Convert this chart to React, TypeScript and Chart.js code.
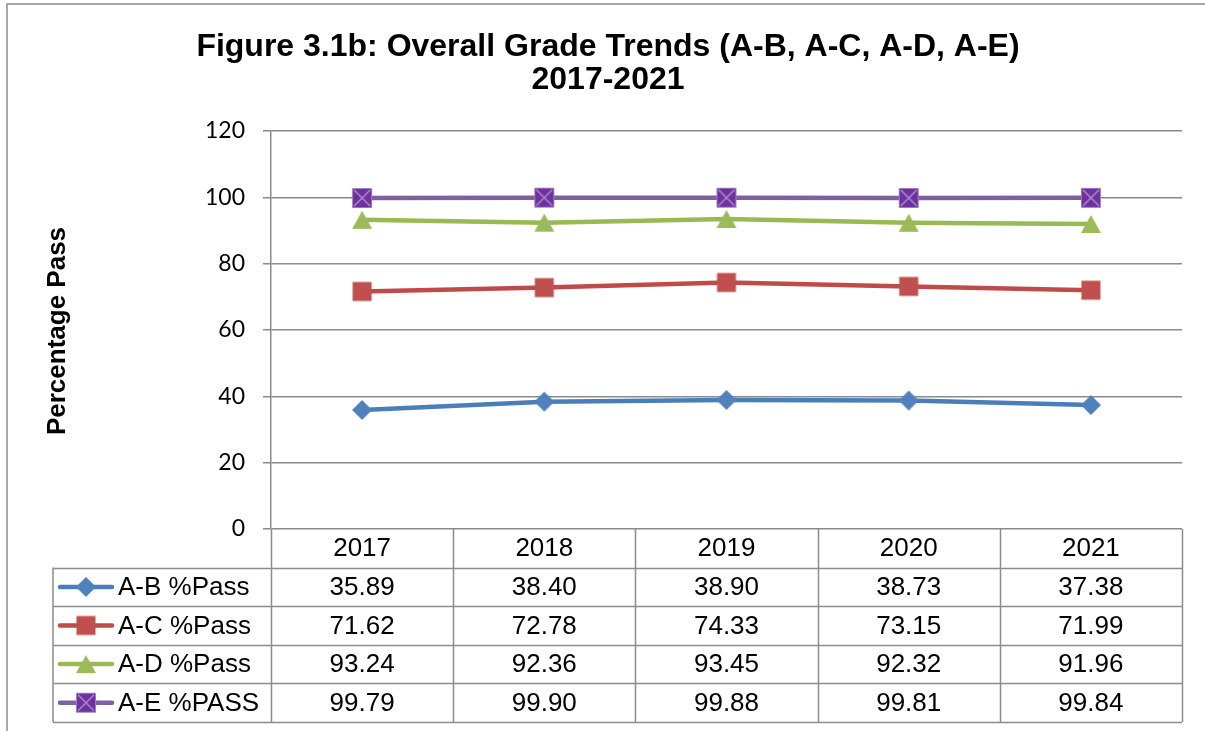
import React, { useEffect, useRef } from "react";
import { Chart, registerables } from "chart.js";

Chart.register(...registerables);

const years = ["2017", "2018", "2019", "2020", "2021"];
const seriesNames = ["A-B %Pass", "A-C %Pass", "A-D %Pass", "A-E %PASS"];
const abPass = [35.89, 38.4, 38.9, 38.73, 37.38];
const acPass = [71.62, 72.78, 74.33, 73.15, 71.99];
const adPass = [93.24, 92.36, 93.45, 92.32, 91.96];
const aePass = [99.79, 99.9, 99.88, 99.81, 99.84];
const yMin = 0;
const yMax = 120;
const yStep = 20;
const titleLines = ["Figure 3.1b: Overall Grade Trends (A-B, A-C, A-D, A-E)", "2017-2021"];
const yTitle = "Percentage Pass";

const lineColors = ["#4a7ebb", "#be4b48", "#98b954", "#7d60a0"];
const markerKinds = ["diamond", "square", "triangle", "xsquare"];

function makeMarker(kind: string): HTMLCanvasElement {
  const c = document.createElement("canvas");
  c.width = 22;
  c.height = 22;
  const g = c.getContext("2d")!;
  g.beginPath();
  if (kind === "diamond") {
    g.moveTo(11, 1);
    g.lineTo(21, 11);
    g.lineTo(11, 21);
    g.lineTo(1, 11);
    g.closePath();
    g.fillStyle = "#4f81bd";
    g.fill();
  } else if (kind === "square") {
    g.rect(1.5, 1.5, 19, 19);
    g.fillStyle = "#c0504d";
    g.fill();
  } else if (kind === "triangle") {
    g.moveTo(11, 2);
    g.lineTo(21, 20);
    g.lineTo(1, 20);
    g.closePath();
    g.fillStyle = "#9bbb59";
    g.fill();
  } else {
    g.rect(1.5, 1.5, 19, 19);
    g.fillStyle = "#7030a0";
    g.fill();
    g.strokeStyle = "#9a7cc0";
    g.lineWidth = 1;
    g.stroke();
    g.beginPath();
    g.moveTo(3, 3);
    g.lineTo(19, 19);
    g.moveTo(19, 3);
    g.lineTo(3, 19);
    g.strokeStyle = "#a88ccc";
    g.lineWidth = 1.5;
    g.stroke();
  }
  return c;
}

export default function App() {
  const ref = useRef<HTMLCanvasElement | null>(null);

  useEffect(() => {
    if (!ref.current) return;
    const markers = markerKinds.map(makeMarker);
    const seriesData = [abPass, acPass, adPass, aePass];

    const framePlugin = {
      id: "frame",
      afterDraw(chart: any) {
        const ctx = chart.ctx as CanvasRenderingContext2D;
        const area = chart.chartArea;
        const xs = chart.scales.x;
        ctx.save();
        // outer border
        ctx.strokeStyle = "#8a8a8a";
        ctx.lineWidth = 1.5;
        ctx.beginPath();
        ctx.moveTo(7, 731);
        ctx.lineTo(7, 4);
        ctx.lineTo(1205, 4);
        ctx.stroke();

        // title
        ctx.fillStyle = "#000";
        ctx.textAlign = "center";
        ctx.textBaseline = "middle";
        ctx.font = "bold 32px 'Liberation Sans', Arial, sans-serif";
        ctx.fillText(titleLines[0], 608, 47);
        ctx.fillText(titleLines[1], 608, 80);

        // y title
        ctx.save();
        ctx.translate(58, 331);
        ctx.rotate(-Math.PI / 2);
        ctx.font = "bold 26px 'Liberation Sans', Arial, sans-serif";
        ctx.fillText(yTitle, 0, 0);
        ctx.restore();

        // data table
        const rowH = 38.6;
        const top = area.bottom;
        const n = years.length;
        const colW = (area.right - area.left) / n;
        const tableBottom = top + rowH * (seriesNames.length + 1);
        const legendLeft = 53;
        ctx.strokeStyle = "#8c8c8c";
        ctx.lineWidth = 1.5;
        ctx.beginPath();
        for (let r = 1; r <= seriesNames.length + 1; r++) {
          const y = Math.round(top + rowH * r) + 0.5;
          ctx.moveTo(legendLeft, y);
          ctx.lineTo(area.right, y);
        }
        const r1 = top + rowH;
        ctx.moveTo(legendLeft, r1);
        ctx.lineTo(legendLeft, tableBottom);
        for (let i = 0; i <= n; i++) {
          const x = Math.round(xs.getPixelForValue(i) - colW / 2) + 0.5;
          ctx.moveTo(x, top);
          ctx.lineTo(x, tableBottom);
        }
        ctx.stroke();

        ctx.font = "26px 'Liberation Sans', Arial, sans-serif";
        ctx.fillStyle = "#000";
        ctx.textAlign = "center";
        ctx.textBaseline = "middle";
        for (let i = 0; i < n; i++) {
          const cx = xs.getPixelForValue(i);
          ctx.fillText(years[i], cx, top + rowH / 2 + 1);
          for (let s = 0; s < seriesData.length; s++) {
            ctx.fillText(seriesData[s][i].toFixed(2), cx, top + rowH * (s + 1.5) + 1);
          }
        }
        for (let s = 0; s < seriesNames.length; s++) {
          const cy = top + rowH * (s + 1.5);
          ctx.strokeStyle = lineColors[s];
          ctx.lineWidth = 4.5;
          ctx.lineCap = "round";
          ctx.beginPath();
          ctx.moveTo(60, cy);
          ctx.lineTo(112, cy);
          ctx.stroke();
          ctx.drawImage(markers[s], 86 - 11, cy - 11);
          ctx.textAlign = "left";
          ctx.fillText(seriesNames[s], 118, cy + 1);
        }
        ctx.restore();
      },
    };

    const chart = new Chart(ref.current, {
      type: "line",
      data: {
        labels: years,
        datasets: seriesNames.map((name, i) => ({
          label: name,
          data: seriesData[i],
          borderColor: lineColors[i],
          backgroundColor: lineColors[i],
          borderWidth: 4.5,
          pointStyle: markers[i],
          pointRadius: 10,
          tension: 0,
          clip: false,
        })),
      },
      options: {
        responsive: false,
        animation: false,
        layout: { padding: { top: 131, right: 23, bottom: 202, left: 0 } },
        plugins: {
          legend: { display: false },
          title: { display: false },
          tooltip: { enabled: false },
        },
        scales: {
          x: { type: "category", display: false, offset: true },
          y: {
            min: yMin,
            max: yMax,
            ticks: {
              stepSize: yStep,
              color: "#000",
              font: { family: "Lato", size: 23 },
              padding: 18,
            },
            grid: { color: "#8a8a8a", lineWidth: 1.5, tickLength: 8, drawTicks: true },
            border: { display: true, color: "#8a8a8a", width: 1.5 },
            afterFit: (s: any) => {
              s.width = 271;
            },
          },
        },
      },
      plugins: [framePlugin],
    } as any);
    return () => chart.destroy();
  }, []);

  return (
    <div style={{ position: "absolute", left: 0, top: 0, width: 1205, height: 731, background: "#fff" }}>
      <canvas ref={ref} width={1205} height={731} style={{ display: "block" }} />
    </div>
  );
}
